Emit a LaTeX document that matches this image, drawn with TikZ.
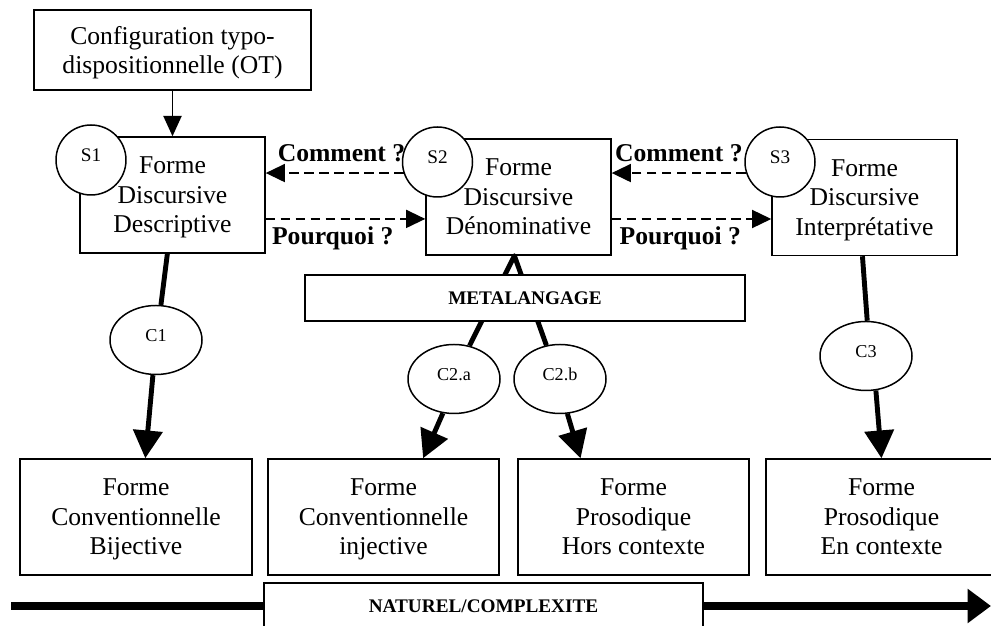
\documentclass[tikz,border=0pt]{standalone}
\usepackage{fontspec}
\setmainfont{Liberation Serif}
\usepackage{tikz}
\usetikzlibrary{shapes.geometric, arrows.meta}

\newcommand{\pxu}{0.468pt}

\tikzset{
    forme/.style={draw, fill=white, line width=0.7pt, align=center,
        minimum width=185*\pxu, minimum height=116*\pxu, inner sep=1pt,
        font=\fontsize{12}{13.8}\selectfont, text depth=0pt,
        execute at begin node=\strut},
    situation/.style={circle, draw, fill=white, line width=0.7pt,
        minimum size=70*\pxu, inner sep=0pt, font=\fontsize{9}{10}\selectfont,
        execute at end node={\rule[-4.5pt]{0pt}{4.5pt}}},
    cas/.style={ellipse, draw, fill=white, line width=0.7pt,
        minimum width=92*\pxu, minimum height=69*\pxu, inner sep=0pt,
        font=\fontsize{8.5}{10}\selectfont,
        execute at end node={\rule[-4.5pt]{0pt}{4.5pt}}},
    bandeau/.style={draw, fill=white, line width=0.7pt, inner sep=0pt,
        font=\fontsize{9}{10}\selectfont\bfseries},
    lien/.style={line width=2.3pt},
    fleche/.style={line width=2.3pt, -{Triangle[length=13pt,width=13.5pt]}},
    question/.style={line width=0.7pt, dash pattern=on 4.5pt off 2.5pt,
        -{Triangle[length=9pt,width=8.5pt]}},
    etiq/.style={font=\fontsize{12}{14}\selectfont\bfseries}
}

\begin{document}
\begin{tikzpicture}[x=\pxu, y=-\pxu]
    \useasboundingbox (0,0) rectangle (991,626);
    \clip (0,0) rectangle (991,626);

    % top and middle row
    \node[forme, minimum width=277*\pxu, minimum height=80*\pxu] (ot) at (172.5, 50) {Configuration typo-\\dispositionnelle (OT)};
    \node[forme] (s1box) at (172.5, 195) {Forme\\Discursive\\Descriptive};
    \node[forme] (s2box) at (518.5, 197) {Forme\\Discursive\\D\'enominative};
    \node[forme] (s3box) at (864.5, 197.5) {Forme\\Discursive\\Interpr\'etative};
    \node[situation] (s1) at (91, 160) {S1};
    \node[situation] (s2) at (437.5, 162) {S2};
    \node[situation] (s3) at (780, 162) {S3};

    % bottom row
    \node[forme, minimum width=232*\pxu] (b1) at (136, 517) {Forme\\Conventionnelle\\Bijective};
    \node[forme, minimum width=231*\pxu] (b2) at (383.5, 517) {Forme\\Conventionnelle\\injective};
    \node[forme, minimum width=231*\pxu] (b3) at (633.5, 517) {Forme\\Prosodique\\Hors contexte};
    \node[forme, minimum width=231*\pxu] (b4) at (881.5, 517) {Forme\\Prosodique\\En contexte};

    \node[cas] (c1) at (156, 340) {C1};
    \node[cas] (c2a) at (454, 379) {C2.a};
    \node[cas] (c2b) at (560, 379) {C2.b};
    \node[cas] (c3) at (866, 356) {C3};

    \draw[line width=0.7pt, -{Triangle[length=9.5pt,width=8.5pt]}] (ot.south) -- (s1box.north);

    \draw[question] (s2.198) -- (s2.198 -| s1box.east) node[etiq, pos=0.45, above=1.5pt] {Comment ?};
    \draw[question] (s3.198) -- (s3.198 -| s2box.east) node[etiq, pos=0.5, above=1.5pt] {Comment ?};
    \draw[question] ([yshift=-11.2pt]s1box.east) -- ([yshift=-11.2pt]s1box.east -| s2box.west) node[etiq, pos=0.42, below] {Pourquoi ?};
    \draw[question] ([yshift=-10.3pt]s2box.east) -- ([yshift=-10.3pt]s2box.east -| s3box.west) node[etiq, pos=0.43, below] {Pourquoi ?};

    \draw[lien] (s1box.265) -- (c1.82);
    \draw[fleche] (c1.265) -- (b1.81);
    \draw[lien, line join=round] (c2a.65) -- (s2box.266) -- (c2b.112);
    \draw[fleche] (c2a.252) -- (b2.56);
    \draw[fleche] (c2b.282) -- (b3.132);
    \draw[lien] (s3box.268) -- (c3.88);
    \draw[fleche] (c3.286) -- (b4.north);

    \node[bandeau, minimum width=440*\pxu, minimum height=46*\pxu] (meta) at (525, 298) {METALANGAGE};

    % axis
    \node[bandeau, minimum width=439*\pxu, minimum height=46*\pxu] (nat) at (483.5, 606) {NATUREL/COMPLEXITE};
    \coordinate (debut) at (11, 606);
    \coordinate (fin) at (991, 606);
    \draw[line width=3.3pt] (debut) -- (nat.west);
    \draw[line width=3.3pt, -{Triangle[length=11pt,width=15.5pt]}] (nat.east) -- (fin);
\end{tikzpicture}
\end{document}
